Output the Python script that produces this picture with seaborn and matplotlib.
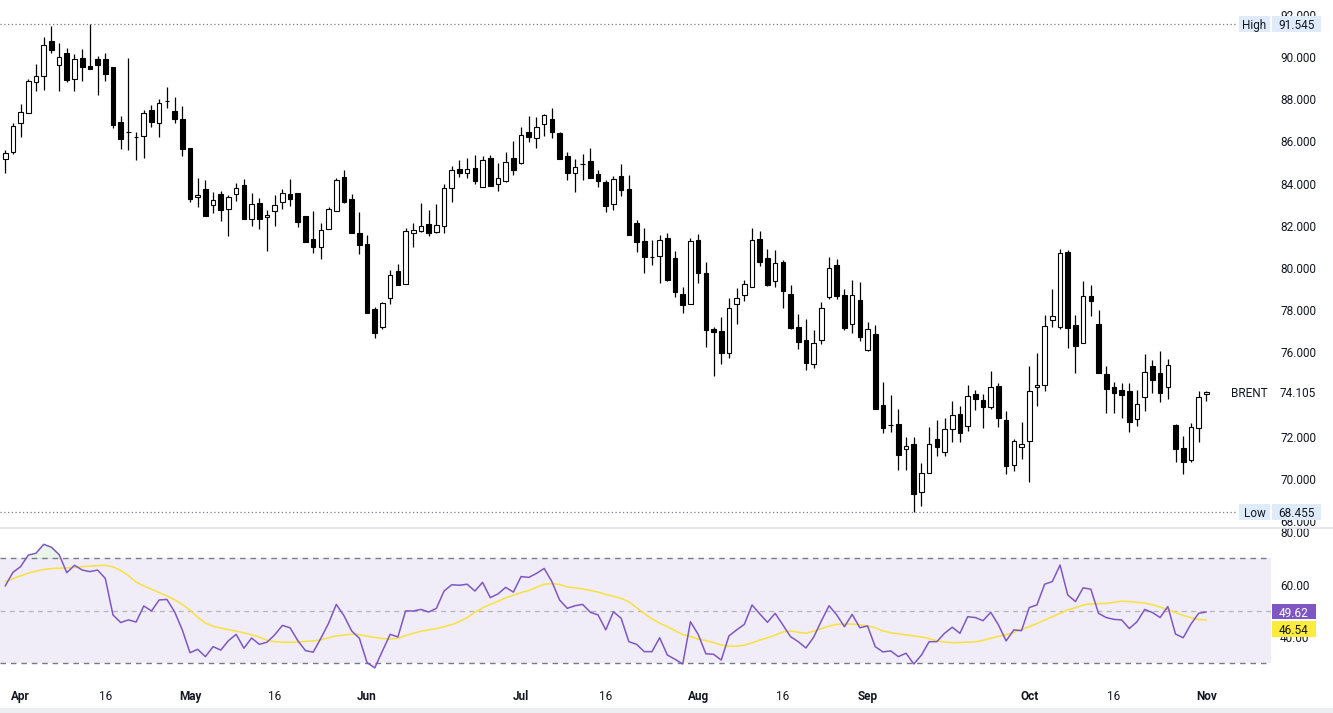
import numpy as np
import pandas as pd
import matplotlib
matplotlib.use("Agg")
import matplotlib.pyplot as plt
import seaborn as sns
from matplotlib.patches import Rectangle
from matplotlib.lines import Line2D
from matplotlib.transforms import blended_transform_factory as btf

# ---------------- data ----------------
dates = pd.bdate_range("2024-03-28", "2024-11-01")

opens = [85.15, 85.51, 86.86, 87.36, 88.83, 89.11, 90.76, 89.64, 90.19, 88.97,
         89.95, 89.57, 89.91, 89.91, 89.53, 86.92, 86.43, 86.19, 86.27, 87.47,
         86.86, 87.90, 87.43, 87.06, 85.67, 83.35, 83.74, 83.00, 83.51, 82.81,
         83.49, 83.93, 82.31, 83.08, 82.40, 82.69, 83.11, 83.49, 83.55, 82.46,
         81.37, 81.01, 81.83, 82.72, 84.31, 83.27, 81.66, 81.14, 78.06, 77.19,
         78.56, 79.86, 79.26, 81.67, 81.77, 82.07, 81.72, 82.00, 83.81, 84.68,
         84.49, 84.73, 83.85, 85.20, 84.00, 84.14, 85.20, 84.99, 86.43, 86.15,
         86.81, 87.05, 86.38, 85.29, 84.49, 84.91, 85.07, 84.44, 84.06, 83.02,
         84.36, 83.74, 82.13, 81.28, 80.51, 80.58, 81.41, 80.46, 78.75, 78.28,
         81.33, 79.75, 77.11, 77.01, 75.96, 78.28, 78.71, 79.09, 81.37, 80.47,
         79.37, 80.28, 78.77, 77.20, 76.59, 75.44, 76.57, 78.64, 80.14, 78.72,
         77.33, 78.48, 76.10, 76.86, 73.51, 72.56, 72.61, 71.44, 71.66, 69.40,
         70.27, 71.90, 71.27, 72.35, 73.08, 72.53, 74.03, 73.74, 73.40, 74.42,
         72.80, 70.65, 71.53, 71.79, 74.35, 74.44, 77.52, 77.22, 80.74, 77.28,
         76.43, 78.67, 77.33, 74.98, 74.36, 74.20, 74.16, 72.83, 73.87, 75.36,
         75.01, 74.35, 72.56, 71.45, 70.90, 72.40, 74.05]

highs = [85.59, 86.86, 87.77, 88.97, 89.67, 90.96, 91.48, 90.68, 90.43, 90.14,
         90.38, 91.545, 90.05, 90.19, 89.53, 87.20, 89.95, 86.45, 87.49, 87.71,
         88.00, 88.56, 88.09, 87.68, 85.67, 84.27, 84.17, 83.60, 83.64, 83.46,
         84.01, 84.22, 83.54, 83.30, 82.75, 83.46, 83.74, 84.22, 83.55, 82.46,
         82.70, 82.12, 82.88, 84.25, 84.64, 83.49, 82.63, 81.56, 78.17, 78.37,
         79.91, 80.19, 81.88, 82.12, 83.07, 82.75, 83.03, 83.98, 84.83, 85.12,
         85.20, 85.36, 85.31, 85.36, 84.96, 85.50, 86.02, 86.67, 87.20, 87.14,
         87.30, 87.57, 86.43, 85.50, 85.17, 85.40, 85.69, 84.64, 84.17, 84.36,
         84.93, 84.41, 82.28, 81.88, 81.33, 81.56, 81.64, 80.81, 79.11, 81.41,
         81.61, 80.27, 77.19, 77.70, 78.58, 79.04, 79.43, 81.90, 81.75, 80.90,
         80.85, 80.38, 79.19, 77.82, 77.58, 77.06, 78.39, 80.54, 80.43, 79.00,
         79.43, 79.34, 77.44, 77.30, 74.60, 73.98, 73.32, 72.01, 72.01, 70.77,
         72.48, 72.80, 72.88, 73.68, 73.46, 74.45, 74.22, 74.03, 75.12, 74.53,
         73.22, 71.90, 72.70, 75.34, 75.96, 77.77, 78.99, 80.90, 80.85, 77.77,
         79.38, 79.19, 78.01, 75.34, 74.60, 74.53, 74.53, 74.20, 75.92, 75.64,
         76.07, 75.67, 72.59, 72.04, 72.64, 74.16, 74.16]

lows = [84.52, 85.39, 86.22, 87.36, 88.40, 88.44, 90.20, 88.40, 88.83, 88.40,
        88.88, 89.45, 88.20, 88.88, 86.65, 85.64, 85.59, 85.12, 85.23, 86.70,
        86.22, 87.60, 86.89, 85.32, 83.14, 82.91, 82.48, 82.59, 82.24, 81.52,
        83.19, 82.34, 81.99, 81.87, 80.82, 82.01, 82.81, 82.95, 81.96, 81.25,
        80.73, 80.44, 81.83, 82.72, 83.09, 81.67, 80.66, 77.88, 76.70, 77.09,
        78.28, 79.21, 79.26, 81.01, 81.72, 81.53, 81.67, 81.67, 83.14, 84.33,
        84.28, 83.98, 83.85, 83.89, 83.66, 84.06, 84.42, 84.91, 85.96, 85.70,
        86.27, 86.18, 85.18, 84.17, 83.62, 84.17, 84.28, 83.85, 82.67, 82.75,
        83.41, 81.56, 80.77, 79.78, 80.14, 79.30, 79.40, 78.61, 77.88, 78.28,
        79.30, 76.27, 74.90, 75.45, 75.73, 77.35, 78.45, 79.09, 80.09, 79.16,
        79.11, 78.12, 77.09, 76.16, 75.17, 75.28, 76.41, 78.55, 78.55, 77.06,
        76.93, 76.56, 76.07, 73.32, 72.19, 72.24, 70.44, 70.43, 68.455, 68.73,
        70.27, 71.10, 71.10, 71.77, 71.77, 72.28, 73.27, 72.43, 73.32, 72.48,
        70.22, 70.40, 70.97, 69.84, 73.47, 74.19, 77.22, 77.12, 76.19, 75.01,
        76.43, 77.74, 75.01, 73.15, 73.15, 72.91, 72.21, 72.53, 73.24, 74.09,
        73.66, 73.81, 70.79, 70.25, 70.79, 71.74, 73.71]

closes = [85.44, 86.73, 87.38, 88.86, 89.09, 90.57, 90.33, 90.00, 88.91, 89.91,
          89.54, 89.45, 89.64, 89.21, 86.78, 86.13, 86.43, 86.19, 87.33, 86.93,
          87.81, 87.90, 87.05, 85.65, 83.26, 83.46, 82.48, 83.22, 82.76, 83.35,
          83.78, 82.34, 83.03, 82.34, 82.50, 82.97, 83.54, 83.28, 82.19, 81.25,
          81.01, 81.80, 82.80, 84.17, 83.14, 81.67, 81.10, 77.88, 76.94, 78.34,
          79.67, 79.21, 81.75, 81.80, 81.98, 81.67, 82.02, 83.78, 84.63, 84.52,
          84.68, 84.14, 85.12, 83.89, 84.25, 85.01, 84.62, 86.29, 86.22, 86.67,
          87.25, 86.42, 85.18, 84.52, 84.77, 84.91, 84.28, 84.14, 82.96, 84.20,
          83.70, 81.56, 81.25, 80.54, 80.51, 81.33, 79.43, 78.88, 78.26, 81.27,
          79.78, 77.06, 76.98, 75.99, 78.09, 78.56, 79.23, 81.33, 80.30, 79.21,
          80.22, 78.93, 77.17, 76.48, 75.48, 76.43, 78.09, 79.99, 78.69, 77.17,
          78.72, 76.75, 77.09, 73.32, 72.40, 72.56, 71.15, 71.55, 69.29, 70.28,
          71.66, 71.53, 72.37, 73.03, 72.19, 73.93, 73.81, 73.43, 74.36, 72.88,
          70.63, 71.80, 71.66, 74.16, 74.45, 77.24, 77.73, 80.70, 77.17, 76.32,
          78.66, 78.45, 75.01, 74.28, 74.06, 73.97, 72.72, 73.55, 75.06, 74.71,
          74.06, 75.39, 71.44, 70.82, 72.45, 73.87, 74.105]

rsi = [59.5, 64.7, 66.9, 71.3, 72.0, 75.4, 74.3, 71.5, 64.6, 67.4,
       65.6, 65.0, 65.6, 62.4, 48.5, 45.6, 46.6, 45.8, 51.9, 50.0,
       54.2, 54.4, 49.7, 42.8, 34.1, 35.4, 32.6, 36.4, 35.1, 38.7,
       41.1, 35.8, 39.7, 37.3, 38.1, 40.9, 44.5, 43.6, 38.7, 34.9,
       34.3, 39.6, 45.3, 52.5, 48.2, 42.4, 39.6, 30.3, 28.3, 34.8,
       41.1, 40.1, 50.0, 50.0, 50.6, 49.6, 51.0, 57.6, 60.0, 59.8,
       60.2, 57.6, 60.9, 55.1, 56.5, 59.0, 57.2, 63.1, 62.8, 64.3,
       66.2, 61.2, 54.2, 51.0, 52.0, 52.5, 49.5, 48.5, 42.8, 49.7,
       47.2, 38.3, 37.3, 34.5, 34.5, 39.8, 33.2, 31.6, 29.8, 45.9,
       41.1, 33.7, 33.5, 31.3, 40.5, 42.8, 44.9, 52.3, 48.9, 45.7,
       49.1, 44.7, 40.2, 38.3, 35.9, 40.0, 46.2, 52.0, 48.5, 44.0,
       48.7, 43.6, 44.3, 36.4, 34.4, 34.8, 32.6, 33.9, 29.8, 33.2,
       38.3, 38.3, 41.5, 43.8, 41.5, 47.8, 47.5, 46.3, 49.5, 44.7,
       38.6, 42.8, 42.5, 51.3, 52.3, 60.2, 61.2, 67.5, 56.1, 53.6,
       58.8, 58.3, 49.1, 47.5, 46.8, 46.6, 43.3, 45.9, 50.6, 49.4,
       47.5, 51.7, 41.2, 39.8, 45.0, 49.1, 49.62]

rsi_ma = [61.2, 62.3, 63.4, 64.4, 65.2, 65.8, 66.2, 66.3, 66.4, 66.6,
          66.9, 67.1, 67.3, 67.4, 66.8, 65.5, 63.5, 61.0, 59.6, 58.3,
          57.0, 55.7, 54.3, 52.5, 50.3, 47.6, 45.4, 44.2, 43.5, 42.9,
          42.3, 41.7, 40.9, 40.1, 38.8, 38.3, 38.1, 38.1, 38.2, 38.4,
          38.6, 39.0, 39.8, 40.5, 40.8, 41.2, 41.0, 40.4, 39.9, 39.5,
          39.3, 39.6, 40.6, 41.5, 42.3, 42.8, 43.3, 44.0, 44.8, 46.0,
          47.5, 49.5, 51.2, 52.5, 53.7, 55.0, 56.0, 57.0, 57.8, 59.0,
          60.2, 60.4, 60.1, 59.2, 58.8, 58.4, 57.8, 57.2, 56.3, 55.6,
          54.8, 53.5, 51.3, 49.0, 47.0, 45.4, 44.0, 42.5, 41.0, 40.3,
          39.3, 38.7, 38.0, 37.0, 36.6, 36.6, 37.0, 37.8, 38.9, 39.8,
          40.8, 42.0, 42.4, 41.9, 41.5, 42.3, 43.3, 44.2, 44.9, 45.0,
          45.0, 44.8, 44.3, 43.6, 42.4, 41.7, 41.3, 40.9, 40.5, 40.1,
          39.5, 38.6, 38.2, 37.9, 38.0, 38.1, 38.2, 38.8, 39.6, 40.3,
          41.0, 41.8, 43.0, 44.0, 45.2, 46.5, 47.8, 49.1, 50.4, 51.2,
          52.3, 52.7, 52.8, 52.9, 53.3, 53.7, 53.6, 53.3, 53.0, 52.4,
          51.5, 50.5, 49.5, 48.3, 47.5, 46.7, 46.54]

price_ticks = [68, 70, 72, 76, 78, 80, 82, 84, 86, 88, 90, 92]
rsi_ticks = [40, 60, 80]
tick_dates = ["2024-04-01", "2024-04-16", "2024-05-01", "2024-05-16", "2024-06-03",
              "2024-07-01", "2024-07-16", "2024-08-01", "2024-08-16", "2024-09-02",
              "2024-10-01", "2024-10-16", "2024-11-01"]
tick_labels = ["Apr", "16", "May", "16", "Jun", "Jul", "16", "Aug", "16", "Sep",
               "Oct", "16", "Nov"]
symbol = "BRENT"
high_val, low_val = 91.545, 68.455

# ---------------- styling ----------------
sns.set_style("white")
plt.rcParams["font.family"] = ["Roboto", "DejaVu Sans"]
TXT = "#131722"

W, H = 1333, 713
fig = plt.figure(figsize=(W / 100, H / 100), dpi=100)
fig.patch.set_facecolor("white")


def rect(x0, y0, x1, y1):
    return [x0 / W, 1 - y1 / H, (x1 - x0) / W, (y1 - y0) / H]


ax = fig.add_axes(rect(0, 0, 1271, 527))
ax2 = fig.add_axes(rect(0, 527, 1271, 680), sharex=ax)

df = pd.DataFrame({"date": dates, "open": opens, "high": highs, "low": lows,
                   "close": closes, "rsi": rsi, "rsi_ma": rsi_ma})
df["i"] = np.arange(len(df))
up = df["close"] >= df["open"]

# ---------------- candles ----------------
ax.vlines(df["i"], df["low"], df["high"], color="black", lw=0.9, zorder=1)
bottoms = np.minimum(df["open"], df["close"])
heights = np.abs(df["close"] - df["open"])
ax.bar(df["i"][up], heights[up], bottom=bottoms[up], width=0.6,
       facecolor="white", edgecolor="black", linewidth=0.8, zorder=2)
ax.bar(df["i"][~up], heights[~up], bottom=bottoms[~up], width=0.6,
       facecolor="black", edgecolor="black", linewidth=0.8, zorder=2)

ax.set_xlim(-0.675, 164.4)
ax.set_ylim(67.73, 92.696)
for s in ax.spines.values():
    s.set_visible(False)
ax.yaxis.tick_right()
ax.set_yticks(price_ticks)
ax.set_yticklabels([f"{v:.3f}" for v in price_ticks])
ax.tick_params(axis="y", length=0, pad=6.5, labelsize=8.5, labelcolor=TXT)
ax.tick_params(axis="x", length=0, labelbottom=False)

# high / low dotted lines
ax.axhline(high_val, xmin=0, xmax=1237 / 1271, color="#787b86", lw=0.9, ls=(0, (1, 2)))
ax.axhline(low_val, xmin=0, xmax=1237 / 1271, color="#787b86", lw=0.9, ls=(0, (1, 2)))


def tag(axis, value, px0, px1, txt, fc, tc, hpx=16, dy_px=0):
    tr = btf(fig.transFigure, axis.transData)
    y0, y1 = axis.get_ylim()
    du = (y1 - y0) / (axis.get_position().height * H)
    yc = value - dy_px * du
    if fc is not None:
        r = Rectangle((px0 / W, yc - hpx / 2 * du), (px1 - px0) / W, hpx * du,
                      transform=tr, facecolor=fc, edgecolor="none",
                      clip_on=False, zorder=10)
        axis.add_patch(r)
    axis.text((px0 + px1) / 2 / W, yc, txt, transform=tr, ha="center",
              va="center_baseline", color=tc, fontsize=8.5, zorder=11, clip_on=False)


BLUE = "#dfebf9"
tag(ax, high_val, 1239, 1270, "High", BLUE, TXT)
tag(ax, high_val, 1272, 1321, f"{high_val:.3f}", BLUE, TXT)
tag(ax, low_val, 1239, 1270, "Low", BLUE, TXT)
tag(ax, low_val, 1272, 1321, f"{low_val:.3f}", BLUE, TXT)
tag(ax, closes[-1], 1232, 1267, symbol, None, TXT)
tag(ax, closes[-1], 1280, 1316, f"{closes[-1]:.3f}", None, TXT)

# ---------------- RSI ----------------
ax2.axhspan(30, 70, color="#7e57c2", alpha=0.10, lw=0, zorder=0)
ax2.axhline(70, color="#787b86", lw=1.0, ls=(0, (4, 3.5)), zorder=1)
ax2.axhline(30, color="#787b86", lw=1.0, ls=(0, (4, 3.5)), zorder=1)
ax2.axhline(50, color="#787b86", lw=0.9, ls=(0, (4, 3.5)), alpha=0.5, zorder=1)
r = df["rsi"].to_numpy()
ax2.fill_between(df["i"], r, 70, where=r > 70, interpolate=True,
                 color="#4caf50", alpha=0.12, lw=0)
ax2.fill_between(df["i"], r, 30, where=r < 30, interpolate=True,
                 color="#f23645", alpha=0.12, lw=0)
sns.lineplot(data=df, x="i", y="rsi_ma", ax=ax2, color="#f7e13e", lw=1.1, zorder=3)
sns.lineplot(data=df, x="i", y="rsi", ax=ax2, color="#7e57c2", lw=1.1, zorder=4)
ax2.set_ylim(23.7, 82.0)
ax2.set_xlabel("")
ax2.set_ylabel("")
for s in ax2.spines.values():
    s.set_visible(False)
ax2.yaxis.tick_right()
ax2.set_yticks(rsi_ticks)
ax2.set_yticklabels([f"{v:.2f}" for v in rsi_ticks])
ax2.tick_params(axis="y", length=0, pad=6.5, labelsize=8.5, labelcolor=TXT)

pos = [int(np.where(dates == pd.Timestamp(d))[0][0]) for d in tick_dates]
ax2.set_xticks(pos)
ax2.set_xticklabels(tick_labels)
ax2.tick_params(axis="x", length=0, pad=7, labelsize=8.5, labelcolor=TXT)
for lab in ax2.get_xticklabels():
    if not lab.get_text().isdigit():
        lab.set_fontweight("bold")
ax2.set_xlim(-0.675, 164.4)

tag(ax2, rsi[-1], 1272, 1316, f"{rsi[-1]:.2f}", "#7e57c2", "white", hpx=15)
tag(ax2, rsi[-1], 1272, 1316, f"{rsi_ma[-1]:.2f}", "#ffeb3b", TXT, hpx=16, dy_px=17)

# separators
fig.add_artist(Line2D([0, 1], [1 - 527.5 / H] * 2, transform=fig.transFigure,
                      color="#e0e3eb", lw=1.2))
fig.add_artist(Rectangle((0, 0), 1, 5 / H, transform=fig.transFigure,
                         facecolor="#eceef3", edgecolor="none"))

fig.savefig("out.png", dpi=100)
